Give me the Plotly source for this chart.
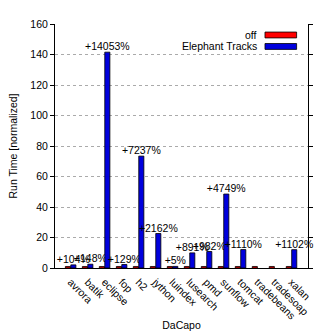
import plotly.graph_objects as go

categories = ["avrora", "batik", "eclipse", "fop", "h2", "jython", "luindex",
              "lusearch", "pmd", "sunflow", "tomcat", "tradebeans", "tradesoap", "xalan"]
off_values = [1, 1, 1, 1, 1, 1, 1, 1, 1, 1, 1, 1, 1, 1]
et_percent = [104, 148, 14053, 129, 7237, 2162, 5, 891, 982, 4749, 1110, None, None, 1102]
et_values = [None if p is None else 1 + p / 100.0 for p in et_percent]
et_labels = ["" if p is None else "+%d%%" % p for p in et_percent]
y_ticks = [0, 20, 40, 60, 80, 100, 120, 140, 160]

font = "Liberation Sans, Arial, sans-serif"
fs = 10.5

fig = go.Figure()
fig.add_trace(go.Bar(x=categories, y=off_values, name="off",
                     marker=dict(color="#ff0000", line=dict(color="#000000", width=0.8)),
                     showlegend=False))
fig.add_trace(go.Bar(x=categories, y=et_values, name="Elephant Tracks",
                     text=et_labels, textposition="outside", textangle=0,
                     constraintext="none", cliponaxis=False,
                     textfont=dict(family=font, size=fs, color="#000000"),
                     marker=dict(color="#0000dd", line=dict(color="#000000", width=0.8)),
                     showlegend=False))

# manual legend (text left of swatch, gnuplot style)
legend_items = [("off", "#ff0000"), ("Elephant Tracks", "#0000dd")]
for i, (name, col) in enumerate(legend_items):
    yc = 0.955 - i * 0.047
    fig.add_annotation(xref="paper", yref="paper", x=0.805, y=yc, text=name,
                       showarrow=False, xanchor="right", yanchor="middle",
                       font=dict(family=font, size=fs, color="#000000"))
    fig.add_shape(type="rect", xref="paper", yref="paper",
                  x0=0.83, x1=0.955, y0=yc - 0.012, y1=yc + 0.012,
                  fillcolor=col, line=dict(color="#000000", width=0.8))

fig.update_layout(
    width=316, height=336,
    margin=dict(l=55, r=8, t=24, b=68),
    paper_bgcolor="#ffffff", plot_bgcolor="#ffffff",
    barmode="group", bargap=0.36, bargroupgap=0.06,
    font=dict(family=font, size=fs, color="#000000"),
    xaxis=dict(tickangle=45, showline=True, linecolor="#000000", linewidth=1,
               range=[-0.92, 13.97],
               ticks="outside", ticklen=3, tickcolor="rgba(0,0,0,0)", showgrid=False,
               automargin=False,
               tickfont=dict(family=font, size=fs, color="#000000"),
               title=dict(text="DaCapo", font=dict(family=font, size=fs), standoff=1)),
    yaxis=dict(range=[0, 160], tickvals=y_ticks, showline=True, linecolor="#000000",
               linewidth=1, ticks="outside", ticklen=4, tickcolor="#000000",
               mirror="ticks", showgrid=True, gridcolor="#aaaaaa", griddash="dot",
               gridwidth=1, zeroline=False, automargin=False,
               tickfont=dict(family=font, size=fs, color="#000000"),
               title=dict(text="Run Time [normalized]", font=dict(family=font, size=fs),
                          standoff=10)),
)

fig.write_html("out.html")
